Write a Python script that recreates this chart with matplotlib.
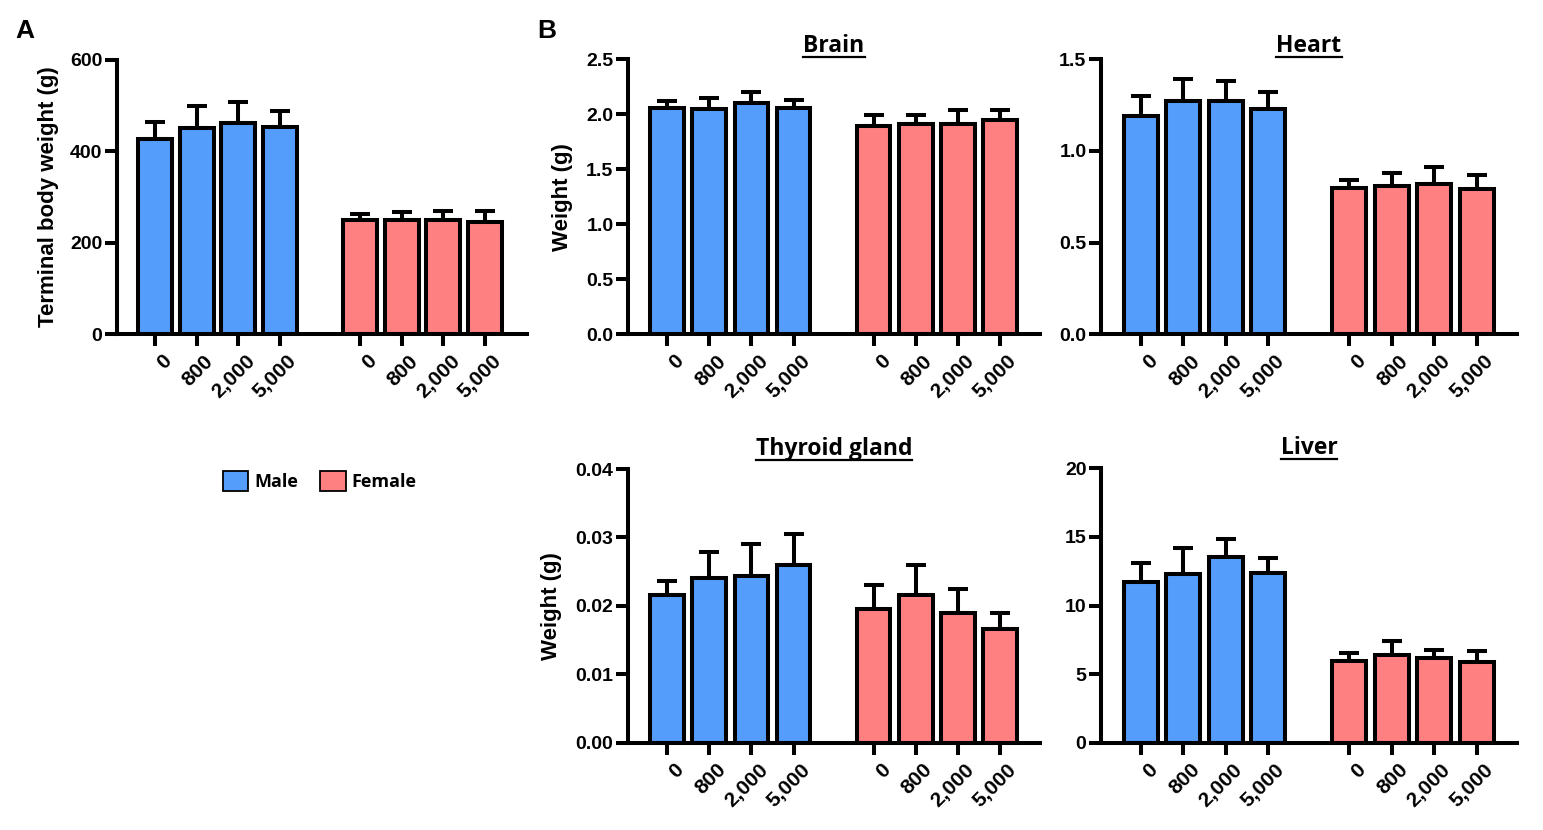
import matplotlib
matplotlib.use('Agg')
import matplotlib.pyplot as plt
import matplotlib.transforms as mtransforms
from matplotlib.patches import Patch
from matplotlib.lines import Line2D
import numpy as np

# ---------------- data ----------------
doses = ['0', '800', '2,000', '5,000']
groups = ['Male', 'Female']

bw_male = [427, 451, 462, 453]
bw_male_err = [37, 48, 46, 35]
bw_female = [250, 250, 250, 245]
bw_female_err = [13, 17, 20, 24]

brain_male = [2.06, 2.05, 2.10, 2.06]
brain_male_err = [0.06, 0.10, 0.10, 0.07]
brain_female = [1.89, 1.91, 1.91, 1.95]
brain_female_err = [0.10, 0.08, 0.13, 0.09]

heart_male = [1.19, 1.27, 1.27, 1.23]
heart_male_err = [0.11, 0.12, 0.11, 0.09]
heart_female = [0.80, 0.81, 0.82, 0.79]
heart_female_err = [0.04, 0.07, 0.09, 0.08]

thyroid_male = [0.0216, 0.0241, 0.0244, 0.0260]
thyroid_male_err = [0.0020, 0.0037, 0.0047, 0.0045]
thyroid_female = [0.0195, 0.0216, 0.0190, 0.0166]
thyroid_female_err = [0.0035, 0.0043, 0.0035, 0.0024]

liver_male = [11.7, 12.3, 13.5, 12.35]
liver_male_err = [1.4, 1.9, 1.35, 1.1]
liver_female = [5.96, 6.39, 6.15, 5.88]
liver_female_err = [0.6, 1.0, 0.6, 0.8]

# ---------------- style ----------------
BLUE = '#559DFA'
PINK = '#FF8080'
LW = 2.9
W, H = 1543, 830
TICKFONT = 'Liberation Sans'
TITLEFONT = 'Open Sans'

fig = plt.figure(figsize=(W / 100, H / 100), dpi=100)


def px_axes(l, t, r, b):
    return fig.add_axes([l / W, 1 - b / H, (r - l) / W, (b - t) / H])


def draw(ax, male, male_err, female, female_err, ylim, yticks, fmt,
         offset, xlim, width, title=None, title_pad=5, ylabel=None,
         ylabel_dx=60):
    xm = np.arange(len(doses))
    xf = xm + offset
    for x, v, e, c in ((xm, male, male_err, BLUE), (xf, female, female_err, PINK)):
        ax.errorbar(x, v, yerr=[np.zeros(len(v)), e], fmt='none', ecolor='black',
                    elinewidth=LW, capsize=7, capthick=LW, zorder=1)
        ax.bar(x, v, width, color=c, edgecolor='black', linewidth=LW, zorder=2)
    for s in ('top', 'right'):
        ax.spines[s].set_visible(False)
    for s in ('left', 'bottom'):
        ax.spines[s].set_linewidth(LW)
        ax.spines[s].set_capstyle('projecting')
    ax.set_ylim(*ylim)
    ax.set_yticks(yticks)
    ax.set_yticklabels([fmt.format(v) for v in yticks],
                       fontfamily=TICKFONT, fontweight='bold', fontsize=14)
    ax.set_xlim(*xlim)
    ax.set_xticks(list(xm) + list(xf))
    ax.set_xticklabels(doses + doses, rotation=45, ha='right', va='top',
                       rotation_mode='anchor', fontfamily=TICKFONT,
                       fontweight='bold', fontsize=15)
    ax.tick_params(axis='both', length=8.5, width=LW, direction='out')
    ax.tick_params(axis='y', pad=2)
    ax.tick_params(axis='x', pad=4)
    off = mtransforms.ScaledTranslation(7 / 100, 0, fig.dpi_scale_trans)
    for lab in ax.get_xticklabels():
        lab.set_transform(lab.get_transform() + off)
    if ylabel:
        ax.set_ylabel(ylabel, fontfamily=TICKFONT, fontweight='bold', fontsize=16)
        bbox = ax.get_position()
        ax.yaxis.set_label_coords(-ylabel_dx / (bbox.width * W), 0.5)
    if title:
        ax.set_title(title, fontfamily=TITLEFONT, fontweight='bold',
                     fontsize=16.5, pad=title_pad)
    return ax


# Panel A
axA = px_axes(117, 60, 527, 334)
draw(axA, bw_male, bw_male_err, bw_female, bw_female_err, (0, 600),
     [0, 200, 400, 600], '{:.0f}', 4.94, (-0.92, 8.96), 0.82,
     ylabel='Terminal body weight (g)', ylabel_dx=58)

XL = (-0.93, 8.85)
axBr = px_axes(628, 59.3, 1040, 334.3)
draw(axBr, brain_male, brain_male_err, brain_female, brain_female_err, (0, 2.5),
     [0, 0.5, 1.0, 1.5, 2.0, 2.5], '{:.1f}', 4.9, XL, 0.80,
     title='Brain', title_pad=5.5, ylabel='Weight (g)', ylabel_dx=55)

axHe = px_axes(1101, 59.3, 1517, 334.3)
draw(axHe, heart_male, heart_male_err, heart_female, heart_female_err, (0, 1.5),
     [0, 0.5, 1.0, 1.5], '{:.1f}', 4.9, XL, 0.80,
     title='Heart', title_pad=5.5)

axTh = px_axes(628, 469, 1040, 742.7)
draw(axTh, thyroid_male, thyroid_male_err, thyroid_female, thyroid_female_err,
     (0, 0.04), [0, 0.01, 0.02, 0.03, 0.04], '{:.2f}', 4.9, XL, 0.80,
     title='Thyroid gland', title_pad=10, ylabel='Weight (g)', ylabel_dx=66)

axLi = px_axes(1101, 468.3, 1517, 742.7)
draw(axLi, liver_male, liver_male_err, liver_female, liver_female_err,
     (0, 20), [0, 5, 10, 15, 20], '{:.0f}', 4.9, XL, 0.80,
     title='Liver', title_pad=10)

# panel letters
fig.text(15 / W, 1 - 38 / H, 'A', fontfamily=TICKFONT, fontweight='bold',
         fontsize=19, va='baseline', ha='left')
fig.text(537 / W, 1 - 38 / H, 'B', fontfamily=TICKFONT, fontweight='bold',
         fontsize=19, va='baseline', ha='left')

# legend
handles = [Patch(facecolor=BLUE, edgecolor='black', linewidth=1.3, label=groups[0]),
           Patch(facecolor=PINK, edgecolor='black', linewidth=1.3, label=groups[1])]
fig.legend(handles=handles, loc='center', bbox_to_anchor=(320 / W, 1 - 481 / H),
           ncol=2, frameon=False,
           prop={'family': TITLEFONT, 'weight': 'bold', 'size': 13},
           handlelength=1.4, handleheight=1.4, columnspacing=1.2,
           handletextpad=0.35)

# underline titles
fig.canvas.draw()
renderer = fig.canvas.get_renderer()
for ax in (axBr, axHe, axTh, axLi):
    t = ax.title
    bb = t.get_window_extent(renderer)
    x0, x1 = bb.x0, bb.x1
    ybase = t.get_transform().transform(t.get_position())[1]
    yline = ybase - 5
    fig.add_artist(Line2D([x0 / W, x1 / W], [yline / H, yline / H],
                          transform=fig.transFigure, color='black', lw=1.6))

fig.savefig('out.png', dpi=100)
